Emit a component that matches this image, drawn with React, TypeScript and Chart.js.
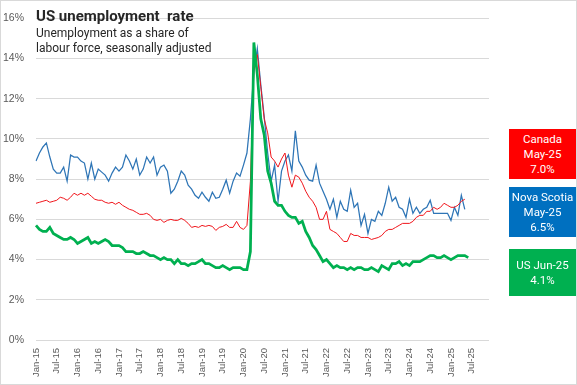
import React, { useEffect, useRef } from "react";
import { Chart, registerables } from "chart.js";

Chart.register(...registerables);

const months = ["Jan", "Feb", "Mar", "Apr", "May", "Jun", "Jul", "Aug", "Sep", "Oct", "Nov", "Dec"];
const years = ["15", "16", "17", "18", "19", "20", "21", "22", "23", "24", "25"];
const categories = years.flatMap((y) => months.map((m) => `${m}-${y}`));

// US (Jan-15 .. Jun-25)
const usRate = [
  5.7, 5.5, 5.4, 5.4, 5.6, 5.3, 5.2, 5.1, 5.0, 5.0, 5.1, 5.0,
  4.8, 4.9, 5.0, 5.1, 4.8, 4.9, 4.8, 4.9, 5.0, 4.9, 4.7, 4.7,
  4.7, 4.6, 4.4, 4.4, 4.4, 4.3, 4.3, 4.4, 4.3, 4.2, 4.2, 4.1,
  4.0, 4.1, 4.0, 4.0, 3.8, 4.0, 3.8, 3.8, 3.7, 3.8, 3.8, 3.9,
  4.0, 3.8, 3.8, 3.7, 3.6, 3.6, 3.7, 3.6, 3.5, 3.6, 3.6, 3.6,
  3.5, 3.5, 4.4, 14.8, 13.2, 11.0, 10.2, 8.4, 7.8, 6.9, 6.7, 6.7,
  6.4, 6.2, 6.1, 6.1, 5.8, 5.9, 5.4, 5.1, 4.7, 4.5, 4.2, 3.9,
  4.0, 3.8, 3.6, 3.7, 3.6, 3.6, 3.5, 3.6, 3.5, 3.6, 3.6, 3.5,
  3.5, 3.6, 3.5, 3.4, 3.7, 3.6, 3.5, 3.8, 3.8, 3.9, 3.7, 3.8,
  3.7, 3.9, 3.9, 3.9, 4.0, 4.1, 4.2, 4.2, 4.1, 4.1, 4.2, 4.1,
  4.0, 4.1, 4.2, 4.2, 4.2, 4.1,
];

// Canada (Jan-15 .. May-25)
const canadaRate = [
  6.8, 6.85, 6.9, 6.95, 6.85, 6.9, 6.95, 7.1, 7.05, 6.95, 7.1, 7.3,
  7.2, 7.3, 7.2, 7.3, 7.15, 7.0, 6.95, 6.95, 6.85, 6.8, 6.85, 6.75,
  6.85, 6.7, 6.6, 6.5, 6.45, 6.35, 6.25, 6.25, 6.3, 6.2, 6.0, 5.95,
  6.0, 5.85, 5.95, 6.0, 5.95, 5.95, 6.05, 5.95, 5.8, 5.6, 5.65, 5.6,
  5.7, 5.65, 5.7, 5.65, 5.45, 5.6, 5.65, 5.75, 5.6, 5.6, 5.9, 5.6,
  5.5, 5.7, 7.9, 13.4, 14.2, 12.6, 11.0, 10.3, 9.1, 8.9, 8.6, 9.0,
  9.3, 8.2, 7.6, 8.2, 8.1, 7.8, 7.4, 7.1, 6.9, 6.6, 6.0, 6.0,
  6.4, 5.5, 5.4, 5.3, 5.1, 4.9, 4.9, 5.3, 5.2, 5.2, 5.1, 5.1,
  5.1, 5.0, 5.05, 5.1, 5.2, 5.4, 5.5, 5.5, 5.6, 5.7, 5.8, 5.8,
  5.8, 5.9, 6.1, 6.2, 6.2, 6.4, 6.4, 6.6, 6.5, 6.6, 6.8, 6.7,
  6.6, 6.6, 6.7, 6.9, 7.0,
];

// Nova Scotia (Jan-15 .. May-25)
const novaScotiaRate = [
  8.9, 9.3, 9.6, 9.8, 9.1, 8.5, 8.3, 8.3, 8.6, 7.9, 9.2, 9.1,
  9.1, 8.9, 8.8, 8.0, 8.8, 8.0, 8.5, 8.35, 8.2, 7.9, 8.3, 8.6,
  8.4, 8.6, 9.2, 8.9, 8.5, 9.0, 8.2, 8.5, 9.1, 8.8, 9.1, 8.2,
  8.6, 8.7, 8.4, 7.3, 7.5, 7.9, 8.4, 8.2, 7.7, 7.5, 7.2, 7.05,
  7.35, 7.1, 6.9, 7.35, 7.05, 7.1, 7.5, 7.95, 7.3, 7.9, 8.3, 8.15,
  8.7, 9.3, 11.0, 13.3, 14.5, 12.7, 11.1, 9.3, 7.9, 8.7, 6.9, 8.4,
  8.9, 9.2, 8.4, 10.4, 8.9, 8.6, 8.2, 7.95, 7.9, 8.7, 7.8, 7.4,
  7.0, 6.5, 7.0, 6.1, 6.9, 6.5, 6.4, 7.45, 6.6, 6.8, 5.7, 6.25,
  5.3, 6.0, 5.9, 6.4, 6.2, 6.8, 7.6, 6.9, 7.1, 6.6, 6.5, 6.1,
  7.0, 6.3, 6.6, 6.3, 6.5, 6.6, 6.95, 6.3, 6.3, 6.3, 6.3, 6.3,
  5.95, 6.6, 6.2, 7.2, 6.5,
];

const yTicks = [0, 2, 4, 6, 8, 10, 12, 14, 16];

const boxes = [
  { lines: ["Canada", "May-25", "7.0%"], bg: "#FF0000", top: 129, height: 50 },
  { lines: ["Nova Scotia", "May-25", "6.5%"], bg: "#0070C0", top: 187, height: 50 },
  { lines: ["US Jun-25", "4.1%"], bg: "#00B050", top: 249, height: 47 },
];

export default function App() {
  const ref = useRef<HTMLCanvasElement | null>(null);

  useEffect(() => {
    if (!ref.current) return;
    const chart = new Chart(ref.current, {
      type: "line",
      data: {
        labels: categories,
        datasets: [
          {
            label: "US",
            data: usRate,
            borderColor: "#00B050",
            borderWidth: 2.75,
            pointRadius: 0,
            tension: 0,
          },
          {
            label: "Canada",
            data: canadaRate,
            borderColor: "#F0161C",
            borderWidth: 1,
            pointRadius: 0,
            tension: 0,
          },
          {
            label: "Nova Scotia",
            data: novaScotiaRate,
            borderColor: "#2E75B6",
            borderWidth: 1.25,
            pointRadius: 0,
            tension: 0,
          },
        ],
      },
      options: {
        responsive: false,
        animation: false,
        layout: { padding: { left: 0, top: 8, right: 88, bottom: 0 } },
        plugins: { legend: { display: false }, tooltip: { enabled: false }, title: { display: false } },
        scales: {
          x: {
            type: "category",
            offset: false,
            grid: { display: false, drawTicks: false },
            border: { display: false },
            afterFit: (s: any) => {
              s.height = 45;
            },
            ticks: {
              autoSkip: false,
              maxRotation: 90,
              minRotation: 90,
              padding: 8,
              color: "#595959",
              font: { family: "'Liberation Sans', Arial, sans-serif", size: 9.5 },
              callback: (_v: any, i: number) => (i % 6 === 0 ? categories[i] : ""),
            },
          },
          y: {
            min: 0,
            max: 16,
            afterFit: (s: any) => {
              s.width = 36;
            },
            afterBuildTicks: (s: any) => {
              s.ticks = yTicks.map((v) => ({ value: v }));
            },
            grid: { color: "#D9D9D9", drawTicks: false, lineWidth: 1 },
            border: { display: false },
            ticks: {
              padding: 12,
              color: "#595959",
              font: { family: "'Liberation Sans', Arial, sans-serif", size: 10.5 },
              callback: (v: any) => `${v}%`,
            },
          },
        },
      },
    });
    return () => chart.destroy();
  }, []);

  return (
    <div
      style={{
        position: "absolute",
        left: 0,
        top: 0,
        width: 577,
        height: 385,
        background: "#fff",
        overflow: "hidden",
      }}
    >
      <canvas ref={ref} width={577} height={385} style={{ position: "absolute", left: 0, top: 0 }} />
      <div
        style={{
          position: "absolute",
          left: 36,
          top: 7,
          fontFamily: "Roboto, 'Noto Sans', sans-serif",
          color: "#262626",
          pointerEvents: "none",
        }}
      >
        <div style={{ fontSize: 15, fontWeight: 700, lineHeight: "18px", whiteSpace: "pre" }}>
          US unemployment  rate
        </div>
        <div style={{ fontSize: 12, lineHeight: "14.5px", marginTop: 1 }}>
          Unemployment as a share of
          <br />
          labour force, seasonally adjusted
        </div>
      </div>
      {boxes.map((b) => (
        <div
          key={b.lines[0]}
          style={{
            position: "absolute",
            left: 509,
            top: b.top,
            width: 67,
            height: b.height,
            background: b.bg,
            color: "#fff",
            fontFamily: "Roboto, 'Noto Sans', sans-serif",
            fontSize: 11.5,
            lineHeight: "15px",
            textAlign: "center",
            display: "flex",
            flexDirection: "column",
            justifyContent: "center",
          }}
        >
          {b.lines.map((l) => (
            <div key={l} style={{ whiteSpace: "nowrap" }}>
              {l}
            </div>
          ))}
        </div>
      ))}
      <div
        style={{
          position: "absolute",
          left: 0,
          top: 0,
          width: 577,
          height: 385,
          boxSizing: "border-box",
          border: "1px solid #D9D9D9",
          pointerEvents: "none",
        }}
      />
    </div>
  );
}
